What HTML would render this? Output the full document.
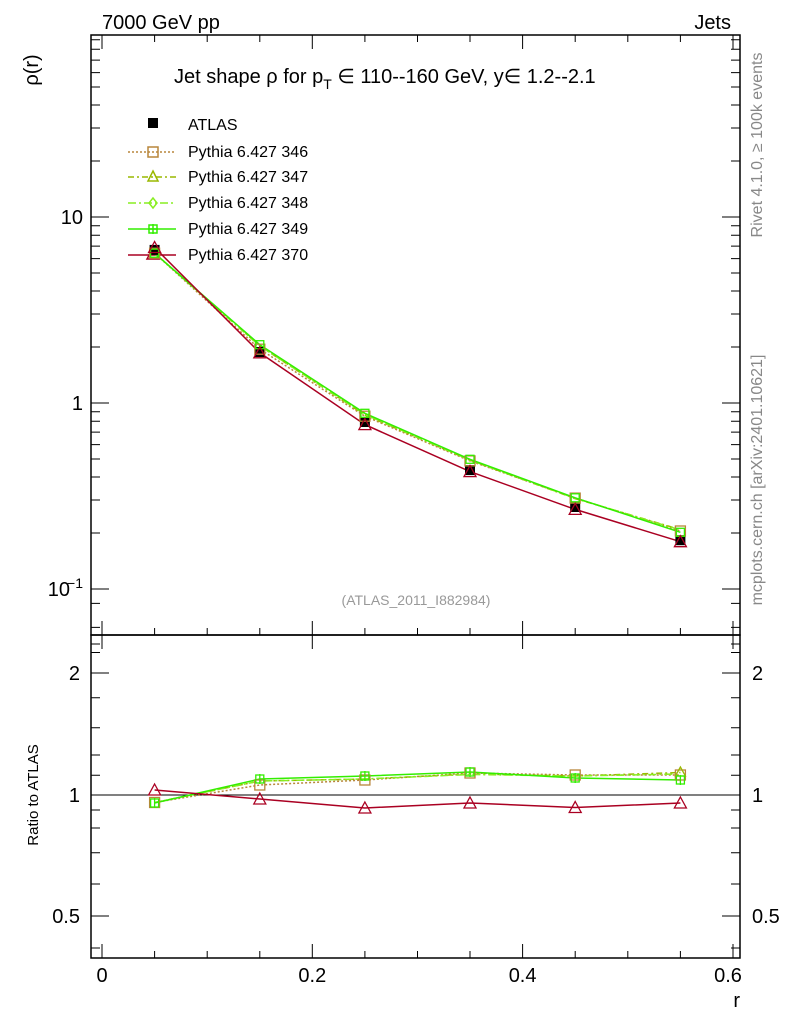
<!DOCTYPE html>
<html><head><meta charset="utf-8"><style>
body{margin:0;background:#fff}
svg{display:block;font-family:"Liberation Sans",sans-serif}
</style></head><body>
<svg width="786" height="1024" viewBox="0 0 786 1024" xmlns="http://www.w3.org/2000/svg">
<rect width="786" height="1024" fill="#fff"/>
<text x="102" y="29" font-size="20">7000 GeV pp</text>
<text x="731" y="29" font-size="20" text-anchor="end">Jets</text>
<g stroke="#000" fill="none" stroke-width="1.5">
<rect x="91" y="35" width="649" height="600"/>
<rect x="91" y="635" width="649" height="323"/>
</g>
<g stroke="#000" stroke-width="1">
<path d="M102 958v-14M312.3 958v-14M522.6 958v-14M733 958v-14M154.6 958v-7M207.2 958v-7M259.8 958v-7M364.9 958v-7M417.5 958v-7M470 958v-7M575.2 958v-7M627.8 958v-7M680.4 958v-7"/>
<path d="M102 635v-14M312.3 635v-14M522.6 635v-14M733 635v-14M154.6 635v-7M207.2 635v-7M259.8 635v-7M364.9 635v-7M417.5 635v-7M470 635v-7M575.2 635v-7M627.8 635v-7M680.4 635v-7"/>
<path d="M102 35v14M312.3 35v14M522.6 35v14M733 35v14M154.6 35v7M207.2 35v7M259.8 35v7M364.9 35v7M417.5 35v7M470 35v7M575.2 35v7M627.8 35v7M680.4 35v7"/>
<path d="M102 635v14M312.3 635v14M522.6 635v14M733 635v14"/>
<path d="M91 217h18M91 403h18M91 589h18M740 217h-18M740 403h-18M740 589h-18"/>
<path d="M91 627.4h9M91 603.4h9M91 533h9M91 500h9M91 477h9M91 459h9M91 444.6h9M91 432.1h9M91 421.3h9M91 411.8h9M91 347h9M91 314h9M91 291h9M91 273h9M91 258.6h9M91 246.1h9M91 235.3h9M91 225.8h9M91 161h9M91 128h9M91 105h9M91 87h9M91 72.6h9M91 60.1h9M91 49.3h9M91 39.8h9"/>
<path d="M740 627.4h-9M740 603.4h-9M740 533h-9M740 500h-9M740 477h-9M740 459h-9M740 444.6h-9M740 432.1h-9M740 421.3h-9M740 411.8h-9M740 347h-9M740 314h-9M740 291h-9M740 273h-9M740 258.6h-9M740 246.1h-9M740 235.3h-9M740 225.8h-9M740 161h-9M740 128h-9M740 105h-9M740 87h-9M740 72.6h-9M740 60.1h-9M740 49.3h-9M740 39.8h-9"/>
<path d="M91 673h18M91 795h18M91 916h18M740 673h-18M740 795h-18M740 916h-18"/>
<path d="M91 644h9M91 652.5h9M91 697.8h9M91 727.8h9M91 755h9M91 775.3h9M91 884h9M91 852.7h9M91 828h9M91 810h9M91 948h9"/>
<path d="M740 644h-9M740 652.5h-9M740 697.8h-9M740 727.8h-9M740 755h-9M740 775.3h-9M740 884h-9M740 852.7h-9M740 828h-9M740 810h-9M740 948h-9"/>
<path d="M91 795H740"/>
</g>
<g font-size="20" text-anchor="end">
<text x="83" y="224">10</text>
<text x="83" y="410">1</text>
<text x="70" y="596">10</text><text x="83" y="588" font-size="14">−1</text>
<text x="80" y="680">2</text><text x="80" y="802">1</text><text x="80" y="923">0.5</text>
</g>
<g font-size="20">
<text x="752" y="680">2</text><text x="752" y="802">1</text><text x="752" y="923">0.5</text>
</g>
<g font-size="20" text-anchor="middle">
<text x="102" y="982">0</text><text x="312.3" y="982">0.2</text><text x="522.6" y="982">0.4</text><text x="728" y="982">0.6</text>
</g>
<text x="740" y="1007" font-size="20" text-anchor="end">r</text>
<text transform="translate(38,70) rotate(-90)" font-size="20" text-anchor="middle">ρ(r)</text>
<text transform="translate(38,795) rotate(-90)" font-size="15" text-anchor="middle">Ratio to ATLAS</text>
<text transform="translate(762,145) rotate(-90)" font-size="16" fill="#888" text-anchor="middle">Rivet 4.1.0, ≥ 100k events</text>
<text transform="translate(762,480) rotate(-90)" font-size="16" fill="#888" text-anchor="middle">mcplots.cern.ch [arXiv:2401.10621]</text>
<text x="416" y="605" font-size="14" fill="#999" text-anchor="middle">(ATLAS_2011_I882984)</text>
<text x="174" y="83" font-size="20">Jet shape ρ for p<tspan font-size="14" dy="6">T</tspan><tspan dy="-6"> ∈ 110--160 GeV, y∈ 1.2--2.1</tspan></text>

<g font-size="16">
<text x="188" y="130">ATLAS</text>
<text x="188" y="157">Pythia 6.427 346</text>
<text x="188" y="182">Pythia 6.427 347</text>
<text x="188" y="208">Pythia 6.427 348</text>
<text x="188" y="234">Pythia 6.427 349</text>
<text x="188" y="260">Pythia 6.427 370</text>
</g>
<rect x="148" y="118" width="10" height="10" fill="#000"/>
<g fill="none" stroke-width="1.5">
<path d="M128 152H176" stroke="#b8863b" stroke-dasharray="2,2"/><rect x="148" y="147" width="10" height="10" stroke="#b8863b"/>
<path d="M128 177H176" stroke="#9ab800" stroke-dasharray="6,3,2,3"/><path d="M153 171l5 10h-10z" stroke="#9ab800"/>
<path d="M128 203H176" stroke="#88ee22" stroke-dasharray="8,3,2,3"/><path d="M153 198l4 5-4 5-4-5z" stroke="#88ee22"/>
<path d="M128 229H176" stroke="#33ee00"/><rect x="149" y="225" width="8" height="8" stroke="#33ee00"/><path d="M153 224v10M148 229h10" stroke="#33ee00"/>
<path d="M128 255H176" stroke="#aa0022"/><path d="M153 248l6 11h-12z" stroke="#aa0022"/>
</g>

<g fill="none" stroke-width="1.5">
<path d="M154.6 253.2L259.8 349.2L364.9 416.2L470 460.9L575.2 498.1L680.4 531" stroke="#b8863b" stroke-dasharray="2,2"/>
<path d="M154.6 253.2L259.8 346L364.9 415L470 460.2L575.2 498.6L680.4 529.6" stroke="#9ab800" stroke-dasharray="6,3,2,3"/>
<path d="M154.6 253.2L259.8 346L364.9 414.5L470 460L575.2 498.3L680.4 530" stroke="#88ee22" stroke-dasharray="8,3,2,3"/>
<path d="M154.6 253.2L259.8 344.7L364.9 413.3L470 459.3L575.2 497.8L680.4 532.3" stroke="#33ee00"/>
<path d="M154.6 247.5L259.8 352.8L364.9 424.6L470 471.6L575.2 509.4L680.4 541.7" stroke="#aa0022"/>
</g>
<g fill="#000">
<rect x="149.6" y="244.9" width="10" height="10"/><rect x="254.8" y="347" width="10" height="10"/><rect x="359.9" y="417" width="10" height="10"/><rect x="465" y="465.1" width="10" height="10"/><rect x="570.2" y="502" width="10" height="10"/><rect x="675.4" y="535.2" width="10" height="10"/>
</g>
<g fill="none" stroke-width="1.3">
<g stroke="#b8863b"><rect x="149.6" y="248.2" width="10" height="10"/><rect x="254.8" y="344.2" width="10" height="10"/><rect x="359.9" y="411.2" width="10" height="10"/><rect x="465" y="455.9" width="10" height="10"/><rect x="570.2" y="493.1" width="10" height="10"/><rect x="675.4" y="526" width="10" height="10"/></g>
<g stroke="#33ee00"><rect x="150.6" y="249.2" width="8" height="8"/><rect x="255.8" y="340.7" width="8" height="8"/><rect x="360.9" y="409.3" width="8" height="8"/><rect x="466" y="455.3" width="8" height="8"/><rect x="571.2" y="493.8" width="8" height="8"/><rect x="676.4" y="528.3" width="8" height="8"/></g>
<g stroke="#aa0022"><path d="M154.6 241.5l6 11h-12z M259.8 346.8l6 11h-12z M364.9 418.6l6 11h-12z M470 465.6l6 11h-12z M575.2 503.4l6 11h-12z M680.4 535.7l6 11h-12z"/></g>
</g>

<g fill="none" stroke-width="1.5">
<path d="M154.6 802.5L259.8 785L364.9 780L470 773L575.2 775L680.4 775" stroke="#b8863b" stroke-dasharray="2,2"/>
<path d="M154.6 802.5L259.8 781L364.9 779L470 774L575.2 776L680.4 772.5" stroke="#9ab800" stroke-dasharray="6,3,2,3"/>
<path d="M154.6 802.5L259.8 781L364.9 779L470 774.5L575.2 776L680.4 774" stroke="#88ee22" stroke-dasharray="8,3,2,3"/>
<path d="M154.6 803L259.8 779L364.9 776L470 772L575.2 778L680.4 780" stroke="#33ee00"/>
<path d="M154.6 790L259.8 799L364.9 808L470 803L575.2 807.5L680.4 803" stroke="#aa0022"/>
</g>
<g fill="none" stroke-width="1.3">
<g stroke="#b8863b"><rect x="149.6" y="797.5" width="10" height="10"/><rect x="254.8" y="780" width="10" height="10"/><rect x="359.9" y="775" width="10" height="10"/><rect x="465" y="768" width="10" height="10"/><rect x="570.2" y="770" width="10" height="10"/><rect x="675.4" y="770" width="10" height="10"/></g>
<g stroke="#9ab800"><path d="M680.4 767l5 9h-10z"/></g>
<g stroke="#33ee00"><rect x="150.6" y="799" width="8" height="8"/><rect x="255.8" y="775" width="8" height="8"/><rect x="360.9" y="772" width="8" height="8"/><rect x="466" y="768" width="8" height="8"/><rect x="571.2" y="774" width="8" height="8"/><rect x="676.4" y="776" width="8" height="8"/>
<path d="M154.6 798v10M259.8 774v10M364.9 771v10M470 767v10M575.2 773v10M680.4 775v10"/></g>
<g stroke="#aa0022"><path d="M154.6 784l6 11h-12z M259.8 793l6 11h-12z M364.9 802l6 11h-12z M470 797l6 11h-12z M575.2 801.5l6 11h-12z M680.4 797l6 11h-12z"/></g>
</g>
</svg>
</body></html>
